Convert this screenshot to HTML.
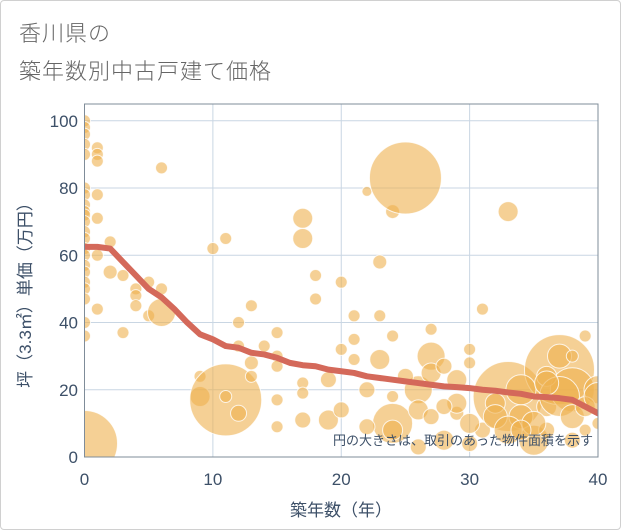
<!DOCTYPE html>
<html><head><meta charset="utf-8"><style>
html,body{margin:0;padding:0;background:#fff}
#wrap{position:relative;width:619px;height:528px;border:1px solid #d0d0d0;border-radius:4px;overflow:hidden;font-family:"Liberation Sans","Noto Sans CJK JP",sans-serif}
.t{position:absolute;left:18px;font-size:22px;color:#666;letter-spacing:1px;font-weight:300}
svg{position:absolute;left:0;top:0}
</style></head><body>
<div id="wrap">
<div class="t" style="top:15px">香川県の</div>
<div class="t" style="top:53px">築年数別中古戸建て価格</div>
<svg id="chart" width="621" height="530"></svg>
</div>
<script>
const bubbleYears=[0,0,0,0,0,0,0,0,0,0,0,0,0,0,0,0,0,0,0,0,0,0,0,1,1,1,1,1,1,1,2,2,3,3,4,4,4,5,5,6,6,6,9,9,11,11,12,10,11,12,12,13,13,13,14,15,15,15,15,15,17,17,17,17,17,18,18,19,19,20,20,21,21,21,22,23,23,23,24,24,25,24,24,26,27,27,27,28,29,29,30,30,31,33,33,34,36,37,37,38,38,39,40,40,35,38,26,28,30,22,20,24,32,36,39,22,25,26,27,29,31,32,34,35,36,37,38,39,40,33,30,28,34,36];
const bubbleValues=[4,100,98,96,93,90,80,78,75,73,72,70,67,65,62,60,57,55,52,50,47,40,36,92,90,88,78,71,60,44,64,55,54,37,50,48,45,52,42,50,43,86,24,18,17,18,13,62,65,40,33,45,28,24,33,37,30,27,17,9,71,65,22,19,11,54,47,11,23,52,32,42,35,29,79,58,42,29,73,36,83,10,8,20,38,30,25,27,23,13,32,28,44,73,18,12,15,26,30,20,30,36,20,10,5,5,3,5,4,20,14,18,16,8,8,9,24,14,12,16,8,12,20,10,24,18,12,15,18,8,10,15,8,22];
const bubbleAreas=[1090,36,36,36,36,36,36,36,36,36,36,36,36,36,36,36,36,36,36,36,36,36,36,36,36,36,36,36,36,36,36,49,36,36,36,36,36,36,36,36,196,36,36,100,1296,36,64,36,36,36,36,36,49,36,36,36,36,36,36,36,100,100,36,36,64,36,36,100,64,36,36,36,36,36,25,49,36,100,49,36,1296,400,100,196,36,196,100,64,100,49,36,36,36,100,1225,144,100,1225,144,484,36,36,196,36,225,64,64,100,64,64,64,36,100,64,36,64,64,100,64,100,64,144,225,144,100,400,144,100,196,196,100,64,100,144];
const trendYears=[0,1,2,3,4,5,6,7,8,9,10,11,12,13,14,15,16,17,18,19,20,21,22,23,24,25,26,27,28,29,30,31,32,33,34,35,36,37,38,39,40];
const trendValues=[62.5,62.5,62,58,54,50,47.5,44,40,36.5,35,33,32.5,31,30.5,29.5,28,27.3,27,26,25.5,25,24,23.5,23,22.5,22,21.5,21,20.8,20.5,20,19.7,19.2,18.8,18,17.8,17.5,17,15,13];
const xTicks=[0,10,20,30,40];
const yTicks=[0,20,40,60,80,100];

const L=83.5,R=597,T=103,B=456;
const X=v=>L+(v/40)*(R-L);
const Y=v=>B-(v/105)*(B-T);
const NS="http://www.w3.org/2000/svg";
const svg=document.getElementById('chart');
function mk(tag,attrs,parent){const e=document.createElementNS(NS,tag);for(const k in attrs)e.setAttribute(k,attrs[k]);(parent||svg).appendChild(e);return e;}

const defs=mk('defs',{});
const cp=mk('clipPath',{id:'pc'},defs);
mk('rect',{x:L,y:T,width:R-L,height:B-T},cp);

const grid=mk('g',{});


xTicks.forEach(t=>{const l=mk('line',{x1:X(t),x2:X(t),y1:T,y2:B,stroke:'#c9d6e3','stroke-width':1},grid);

});
yTicks.forEach(t=>{const l=mk('line',{x1:L,x2:R,y1:Y(t),y2:Y(t),stroke:'#c9d6e3','stroke-width':1},grid);

});

const bg=mk('g',{'clip-path':'url(#pc)'});


bubbleYears.forEach((yr,i)=>{
  const c=mk('circle',{cx:X(yr),cy:Y(bubbleValues[i]),r:Math.sqrt(bubbleAreas[i]),fill:'#efb04f','fill-opacity':0.6,stroke:'#fff','stroke-opacity':0.8,'stroke-width':1},bg);
  
  
});

const tl=mk('polyline',{points:trendYears.map((y,i)=>X(y)+','+Y(trendValues[i])).join(' '),fill:'none',stroke:'#d4695a','stroke-width':6,'stroke-linejoin':'round','stroke-linecap':'round','clip-path':'url(#pc)'});



const frame=mk('rect',{x:L,y:T,width:R-L,height:B-T,fill:'none',stroke:'#7f8c99','stroke-width':1});



xTicks.forEach(t=>{const e=mk('text',{x:X(t),y:484,'text-anchor':'middle','font-size':17,fill:'#3d5068'});e.textContent=t;

});
yTicks.forEach(t=>{const e=mk('text',{x:77,y:Y(t)+6,'text-anchor':'end','font-size':17,fill:'#3d5068'});e.textContent=t;

});

const xt=mk('text',{x:340,y:515,'text-anchor':'middle','font-size':17,fill:'#3d5068','font-family':'"Liberation Sans","Noto Sans CJK JP",sans-serif'});
xt.textContent='築年数（年）';


const yt=mk('text',{x:0,y:0,'text-anchor':'middle','font-size':17,fill:'#3d5068',transform:'translate(30,290) rotate(-90)'});
yt.textContent='坪（3.3㎡）単価（万円）';


const an=mk('text',{x:592,y:444,'text-anchor':'end','font-size':13,fill:'#3d5068'});
an.textContent='円の大きさは、取引のあった物件面積を示す';


</script>
</body></html>
